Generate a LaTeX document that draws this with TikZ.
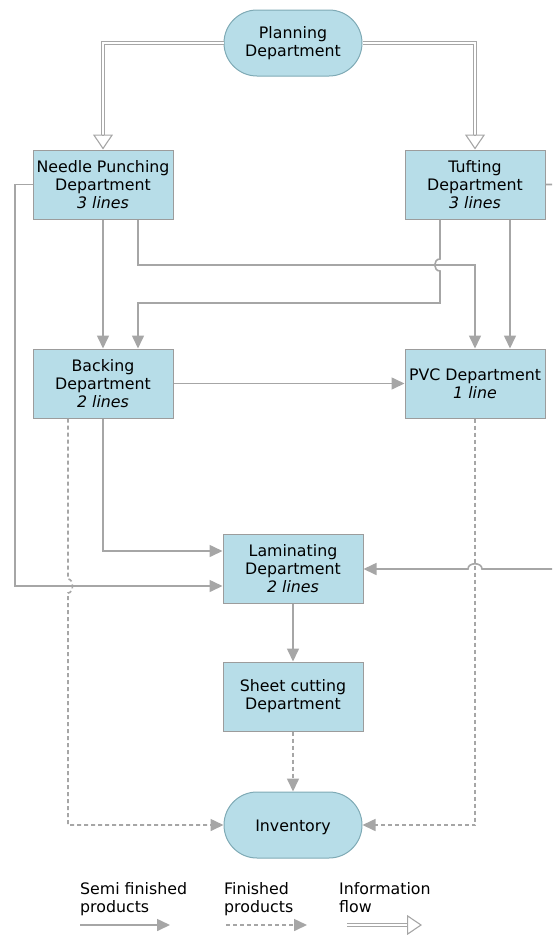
\documentclass[tikz,border=0pt]{standalone}
\usepackage{fontspec}
\setmainfont{DejaVu Sans}
\usetikzlibrary{arrows.meta,shapes.misc,calc}
\definecolor{boxfill}{HTML}{B7DDE8}
\definecolor{boxline}{HTML}{9C9C9C}
\definecolor{pillline}{HTML}{7FAAB5}
\definecolor{flow}{HTML}{A6A6A6}

\begin{document}
\begin{tikzpicture}[x=1pt,y=-1pt,
  every node/.style={font=\fontsize{15.8}{18}\selectfont, text=black},
  dept/.style={rectangle, fill=boxfill, draw=boxline, line width=1pt,
    minimum width=140pt, minimum height=69pt, inner sep=0pt, align=center,
    execute at begin node={\rule{0pt}{15.5pt}}},
  terminal/.style={rounded rectangle, fill=boxfill, draw=pillline, line width=1pt,
    minimum width=138pt, minimum height=66pt, inner sep=0pt, align=center,
    execute at begin node={\rule{0pt}{15.5pt}}},
  legendtext/.style={anchor=north west, align=left, inner sep=0pt},
  semi/.style={draw=flow, line width=1.6pt, -{Triangle[length=13pt,width=12pt]}},
  finished/.style={semi, dash pattern=on 4pt off 3pt},
  info/.style={draw=flow, line width=1.1pt, double=white, double distance=2.2pt},
  infotip/.style={draw=flow, line width=1.1pt, -{Triangle[open,length=15pt,width=20pt]}},
]
\clip (0,0) rectangle (552,935);

% departments
\node[terminal] (plan) at (293,43) {Planning\\Department};
\node[dept] (needle) at (103,184.5) {Needle Punching\\Department\\\textit{3 lines}};
\node[dept] (tuft) at (475,184.5) {Tufting\\Department\\\textit{3 lines}};
\node[dept] (back) at (103,383.5) {Backing\\Department\\\textit{2 lines}};
\node[dept] (pvc) at (475,383.5) {PVC Department\\\textit{1 line}};
\node[dept] (lam) at (293,569) {Laminating\\Department\\\textit{2 lines}};
\node[dept] (sheet) at (293,696.5) {Sheet cutting\\Department};
\node[terminal] (inv) at (293,825) {Inventory};

% information flow from planning
\coordinate (needletip) at ($(needle.north)+(0,-15)$);
\coordinate (tufttip) at ($(tuft.north)+(0,-15)$);
\draw[info] (plan.west) -| (needletip);
\draw[infotip] (needletip) -- (needle.north);
\draw[info] (plan.east) -| (tufttip);
\draw[infotip] (tufttip) -- (tuft.north);

% semi finished products
\draw[semi] (needle.south) -- (back.north);
\draw[semi] ($(needle.south)+(35,0)$) -- (138,265) -| (pvc.north);
\draw[semi] ($(tuft.south)+(-35,0)$) -- (440,259)
  .. controls (433,259) and (433,271) .. (440,271)
  -- (440,303) -| ($(back.north)+(35,0)$);
\draw[semi] ($(tuft.south)+(35,0)$) -- ($(pvc.north)+(35,0)$);
\draw[semi] (needle.west) -| (15,586) -- ($(lam.west)+(0,17)$);
\draw[semi] (back.south) |- ($(lam.west)+(0,-18)$);
\draw[semi] (back.east) -- (pvc.west);
\draw[semi] (tuft.east) -| (575,569) -- (482,569)
  .. controls (482,562) and (468,562) .. (468,569) -- (lam.east);
\draw[semi] (lam.south) -- (sheet.north);

% finished products
\draw[finished] ($(back.south)+(-35,0)$) -- (68,579)
  .. controls (74,579) and (74,593) .. (68,593) |- (inv.west);
\draw[finished] (pvc.south) |- (inv.east);
\draw[finished] (sheet.south) -- (inv.north);

% legend
\node[legendtext] (lsemi) at (80,882) {Semi finished\\products};
\node[legendtext] (lfin) at (224,882) {Finished\\products};
\node[legendtext] (linfo) at (339,882) {Information\\flow};
\coordinate (semiA) at (80,925);
\coordinate (semiB) at (170,925);
\coordinate (finA) at (226,925);
\coordinate (finB) at (307,925);
\coordinate (infoA) at (347,925);
\coordinate (infoM) at (407,925);
\coordinate (infoB) at (422,925);
\draw[semi] (semiA) -- (semiB);
\draw[finished] (finA) -- (finB);
\draw[info] (infoA) -- (infoM);
\draw[infotip] (infoM) -- (infoB);
\end{tikzpicture}
\end{document}
